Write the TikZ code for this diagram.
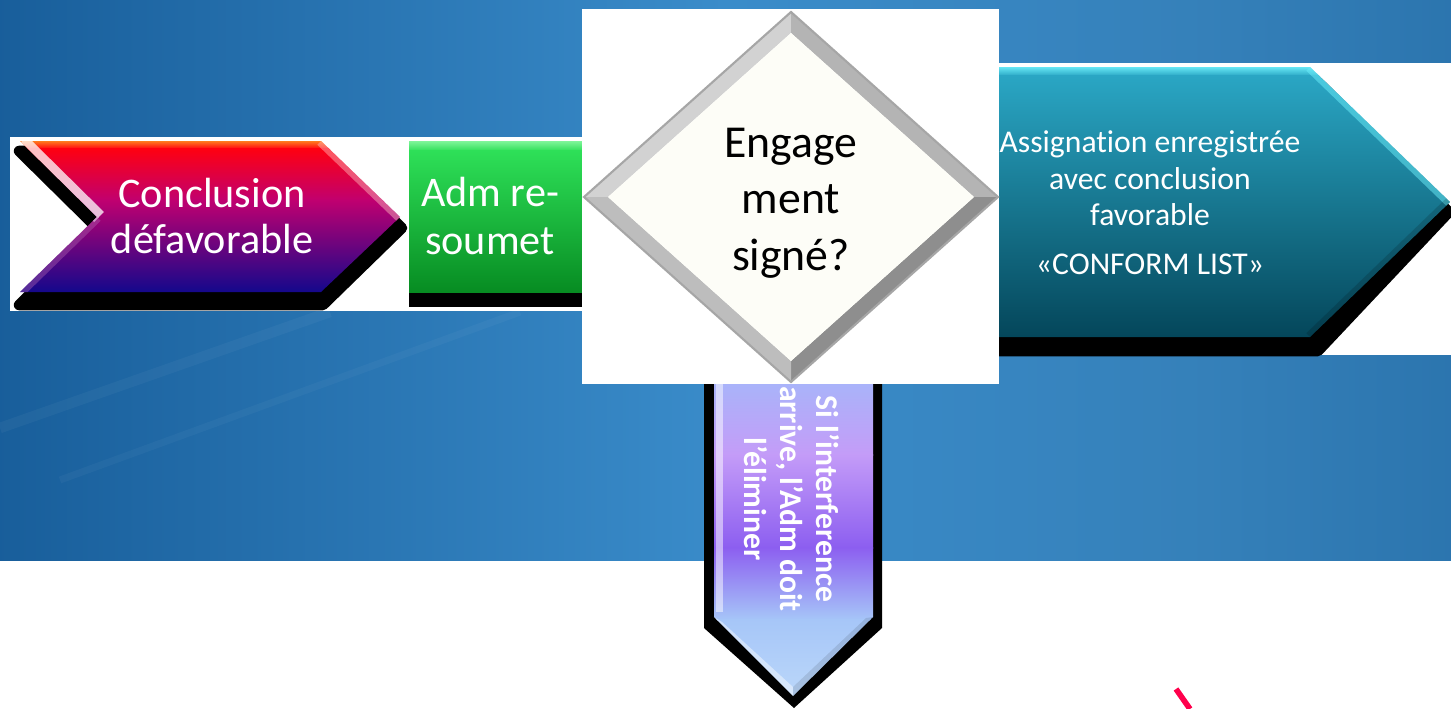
\documentclass[tikz,border=0pt]{standalone}
\usepackage{fontspec}
\setmainfont{Carlito}[RawFeature=-liga]
\definecolor{bgA}{HTML}{0B4C88}
\definecolor{bgB}{HTML}{3A8CCA}
\definecolor{bgC}{HTML}{11558F}
\definecolor{ArrA}{HTML}{A4B8FA}
\definecolor{ArrB}{HTML}{C49CF8}
\definecolor{ArrC}{HTML}{8C5EF0}
\definecolor{ArrD}{HTML}{A6C6F8}
\definecolor{ArrE}{HTML}{BCD8FA}
\definecolor{LchA}{HTML}{FF8A20}
\definecolor{LchB}{HTML}{FF0010}
\definecolor{LchC}{HTML}{C00070}
\definecolor{LchD}{HTML}{6A0CA0}
\definecolor{LchE}{HTML}{12088C}
\definecolor{GrA}{HTML}{7FF59A}
\definecolor{GrB}{HTML}{2EE058}
\definecolor{GrC}{HTML}{078C22}
\definecolor{TlA}{HTML}{6CEEFA}
\definecolor{TlB}{HTML}{2AA6C4}
\definecolor{TlC}{HTML}{0C7E98}
\definecolor{TlD}{HTML}{04465A}
\definecolor{DmA}{HTML}{D2D2D2}
\definecolor{DmB}{HTML}{B4B4B4}
\definecolor{DmC}{HTML}{8E8E8E}
\definecolor{DmD}{HTML}{BDBDBD}
\definecolor{DmIn}{HTML}{FDFDF7}
\pgfdeclarehorizontalshading{bgshade}{100bp}{color(0bp)=(bgA); color(22bp)=(bgA!80!bgB); color(50bp)=(bgB); color(66bp)=(bgB!92!black); color(100bp)=(bgC)}
\tikzset{
  txtw/.style={text=white, align=center, inner sep=0pt},
  txtb/.style={text=black, align=center, inner sep=0pt},
  shadowblk/.style={fill=black, draw=black, line width=3pt, line join=round},
  whitebg/.style={fill=white, draw=none},
}
\begin{document}
\begin{tikzpicture}[x=0.01cm,y=-0.01cm]
\useasboundingbox (0,0) rectangle (1451,709);
% page background
\fill[white] (0,0) rectangle (1451,709);
\shade[shading=bgshade] (0,0) rectangle (1451,560);
% faint streaks
\draw[white, opacity=0.04, line width=3pt] (0,428) -- (330,312);
\draw[white, opacity=0.035, line width=2pt] (60,480) -- (520,312);

% ---------- down arrow (behind diamond picture) ----------
\fill[black] (704,370) -- (882,370) -- (882,628) -- (794,708) -- (704,628) -- cycle;
\begin{scope}
  \clip (714,370) -- (873,370) -- (873,617) -- (793,696) -- (714,617) -- cycle;
  \shade[top color=ArrA, bottom color=ArrB] (700,370) rectangle (890,455);
  \shade[top color=ArrB, bottom color=ArrC] (700,454) rectangle (890,548);
  \shade[top color=ArrC, bottom color=ArrD] (700,547) rectangle (890,620);
  \shade[top color=ArrD, bottom color=ArrE] (700,619) rectangle (890,700);
  \fill[white, opacity=0.5] (716,370) rectangle (723,612);
  \fill[white, opacity=0.45] (714,617) -- (793,696) -- (793,687) -- (722,622) -- cycle;
  \fill[black, opacity=0.1] (873,617) -- (793,696) -- (793,687) -- (866,618) -- cycle;
\end{scope}
\node[txtw, rotate=-90, font=\bfseries\fontsize{9}{10.2}\selectfont] (interf) at (792,499)
  {Si l’interference\\arrive, l’Adm doit\\l’éliminer};

% ---------- left picture: chevron ----------
\fill[whitebg] (10,137) rectangle (410,311);
\fill[shadowblk] (19,151) -- (323,151) -- (402,228) -- (323,305) -- (19,305) -- (97,228) -- cycle;
\begin{scope}
  \clip (20,141) -- (321,141) -- (400,217) -- (321,292) -- (20,292) -- (97,217) -- cycle;
  \shade[top color=LchA, bottom color=LchB] (0,140) rectangle (410,149);
  \shade[top color=LchB, bottom color=LchC] (0,148) rectangle (410,201);
  \shade[top color=LchC, middle color=LchD, bottom color=LchE] (0,200) rectangle (410,293);
  \draw[white, opacity=0.75, line width=4pt] (22,141) -- (99,217);
  \draw[pink, opacity=0.45, line width=3pt] (321,141) -- (400,217);
  \draw[violet!60!white, opacity=0.4, line width=3pt] (97,217) -- (20,292);
\end{scope}
\node[txtw, font=\fontsize{12}{13}\selectfont] (concl) at (212,216) {Conclusion\\défavorable};

% ---------- green box ----------
\fill[whitebg] (409,137) rectangle (582,311);
\fill[black] (409,290) rectangle (582,307);
\shade[top color=GrA, bottom color=GrB] (409,141) rectangle (582,151);
\shade[top color=GrB, bottom color=GrC] (409,150) rectangle (582,292);
\node[txtw, font=\fontsize{12}{13.4}\selectfont] (adm) at (490,216) {Adm re-\\soumet};

% ---------- teal arrow picture ----------
\fill[whitebg] (999,63) rectangle (1451,355);
\fill[shadowblk] (999,82) -- (1318,82) -- (1449,212) -- (1318,351) -- (999,351) -- cycle;
\begin{scope}
  \clip (999,67) -- (1310,67) -- (1450,202) -- (1310,337) -- (999,337) -- cycle;
  \shade[top color=TlA, bottom color=TlB] (990,66) rectangle (1451,76);
  \shade[top color=TlB, middle color=TlC, bottom color=TlD] (990,75) rectangle (1451,338);
  \draw[TlA, opacity=0.5, line width=3pt] (1310,67) -- (1450,202);
  \draw[black, opacity=0.15, line width=3pt] (1450,202) -- (1310,337);
\end{scope}
\node[txtw, font=\fontsize{9}{10.3}\selectfont] (assign) at (1150,203)
  {Assignation enregistrée\\avec conclusion\\favorable\\[3.7pt]«CONFORM LIST»};

% ---------- diamond picture ----------
\fill[whitebg] (582,9) rectangle (999,384);
\fill[DmA] (791,12) -- (584,197) -- (608,197) -- (791,33) -- cycle;
\fill[DmB] (791,12) -- (998,197) -- (974,197) -- (791,33) -- cycle;
\fill[DmC] (998,197) -- (791,382) -- (791,361) -- (974,197) -- cycle;
\fill[DmD] (791,382) -- (584,197) -- (608,197) -- (791,361) -- cycle;
\draw[gray!70, line width=0.6pt, line join=miter] (791,12) -- (998,197) -- (791,382) -- (584,197) -- cycle;
\fill[DmIn] (791,33) -- (974,197) -- (791,361) -- (608,197) -- cycle;
\node[txtb, font=\fontsize{13}{16.1}\selectfont] (eng) at (791,203) {Engage\\ment\\signé?};

% ---------- fragment bottom right ----------
\draw[red!70!magenta, line width=1.6pt] (1176,689) -- (1190,709);
\end{tikzpicture}
\end{document}
